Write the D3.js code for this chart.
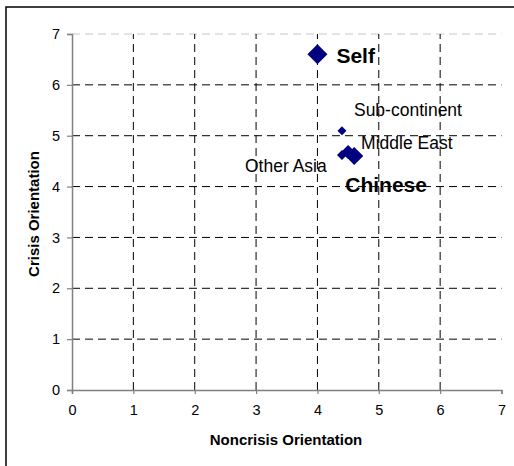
<!DOCTYPE html>
<html><head><meta charset="utf-8">
<script src="https://cdn.jsdelivr.net/npm/d3@7"></script>
<style>body{margin:0;background:#fff}svg{display:block;font-family:"Liberation Sans",Arial,sans-serif}</style>
</head><body>
<script>
const groups = ["Self","Sub-continent","Middle East","Other Asia","Chinese"];
const noncrisis = [4.0, 4.4, 4.5, 4.4, 4.6];
const crisis = [6.6, 5.1, 4.68, 4.62, 4.6];
const xTicks = [0,1,2,3,4,5,6,7];
const yTicks = [0,1,2,3,4,5,6,7];

// styling (not data)
const markerHalf = {"Self":10,"Sub-continent":4.5,"Middle East":7,"Other Asia":5,"Chinese":9};
const labelStyle = {
  "Self":{dx:19,dy:9,size:21,weight:"bold"},
  "Sub-continent":{dx:12,dy:-15,size:17.5,weight:"normal"},
  "Middle East":{dx:13,dy:-3,size:17.5,weight:"normal"},
  "Other Asia":{dx:-97,dy:17,size:17.5,weight:"normal"},
  "Chinese":{dx:-9,dy:36,size:21,weight:"bold"}
};

const W=514,H=466;
const svg=d3.select("body").append("svg").attr("width",W).attr("height",H);
svg.append("rect").attr("x",6).attr("y",7).attr("width",520).attr("height",470)
  .attr("fill","none").attr("stroke","#000").attr("stroke-width",1.5);

const x=d3.scaleLinear().domain([0,7]).range([72,501.5]);
const y=d3.scaleLinear().domain([0,7]).range([390,34]);

// gridlines
const g=svg.append("g");
g.selectAll("line.h").data(yTicks.filter(d=>d>0)).join("line")
  .attr("x1",x(0)).attr("x2",x(7)).attr("y1",d=>y(d)).attr("y2",d=>y(d))
  .attr("stroke",d=>d===7?"#c8c8c8":"#000").attr("stroke-width",1).attr("stroke-dasharray","8,5");
g.selectAll("line.v").data(xTicks.filter(d=>d>0&&d<7)).join("line")
  .attr("x1",d=>x(d)).attr("x2",d=>x(d)).attr("y1",y(0)).attr("y2",y(7))
  .attr("stroke","#000").attr("stroke-width",1).attr("stroke-dasharray","8,5");

// axes
const xa=svg.append("g").attr("transform",`translate(0,${y(0)})`)
  .call(d3.axisBottom(x).tickValues(xTicks).tickFormat(d3.format("d")).tickSize(4).tickPadding(11));
const ya=svg.append("g").attr("transform",`translate(${x(0)},0)`)
  .call(d3.axisLeft(y).tickValues(yTicks).tickFormat(d3.format("d")).tickSize(5).tickPadding(7));
[xa,ya].forEach(a=>{
  a.select(".domain").attr("stroke","#808080").attr("stroke-width",1.5);
  a.selectAll(".tick line").attr("stroke","#808080").attr("stroke-width",1.2);
  a.selectAll(".tick text").attr("font-size",14.5).attr("fill","#000").attr("font-family","Liberation Sans, Arial, sans-serif");
});

// axis titles
svg.append("text").attr("x",286).attr("y",445).attr("text-anchor","middle")
  .attr("font-size",15).attr("font-weight","bold").text("Noncrisis Orientation");
svg.append("text").attr("transform","translate(39,214) rotate(-90)").attr("text-anchor","middle")
  .attr("font-size",15).attr("font-weight","bold").text("Crisis Orientation");

// points
const data=groups.map((n,i)=>({name:n,x:noncrisis[i],y:crisis[i]}));
const order=["Sub-continent","Other Asia","Middle East","Chinese","Self"];
svg.append("g").selectAll("path").data(order.map(n=>data.find(d=>d.name===n))).join("path")
  .attr("d",d=>{const r=markerHalf[d.name];return `M0,${-r}L${r},0L0,${r}L${-r},0Z`;})
  .attr("transform",d=>`translate(${x(d.x)},${y(d.y)})`)
  .attr("fill","#000080");

svg.append("g").selectAll("text").data(data).join("text")
  .attr("x",d=>x(d.x)+labelStyle[d.name].dx)
  .attr("y",d=>y(d.y)+labelStyle[d.name].dy)
  .attr("font-size",d=>labelStyle[d.name].size)
  .attr("font-weight",d=>labelStyle[d.name].weight)
  .attr("fill","#000")
  .text(d=>d.name);
</script>
</body></html>
